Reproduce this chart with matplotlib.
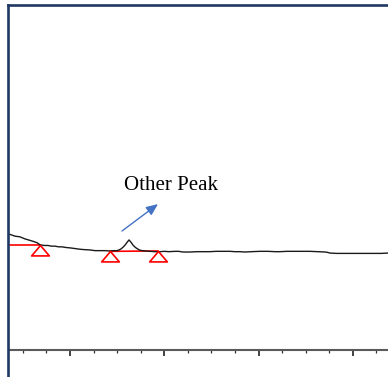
import matplotlib
matplotlib.use("Agg")
import matplotlib.pyplot as plt
from matplotlib.lines import Line2D
from matplotlib.path import Path
from matplotlib.ticker import MultipleLocator

# detector trace (time in min, signal in mAU)
time_min = [0.706, 0.833, 0.939, 1.045, 1.194, 1.300, 1.363, 1.450, 1.533, 1.600,
            1.682, 1.760, 1.830, 1.920, 2.000, 2.110, 2.212, 2.300, 2.424, 2.530,
            2.636, 2.740, 2.848, 2.930, 2.997, 3.040, 3.082, 3.125, 3.166, 3.210,
            3.251, 3.290, 3.336, 3.380, 3.421, 3.470, 3.527, 3.610, 3.697, 3.800,
            3.909, 4.000, 4.100, 4.227, 4.300, 4.400, 4.545, 4.700, 4.850, 4.969,
            5.100, 5.250, 5.393, 5.500, 5.600, 5.711, 5.850, 6.029, 6.200, 6.350,
            6.454, 6.600, 6.772, 6.900, 7.090, 7.250, 7.408, 7.460, 7.514, 7.650,
            7.832, 8.000, 8.150, 8.300, 8.468, 8.600, 8.744]
signal = [33.6, 33.0, 32.8, 32.2, 31.6, 31.1, 30.5, 30.3, 30.3, 30.1,
          30.1, 29.9, 29.9, 29.7, 29.6, 29.4, 29.2, 29.1, 29.0, 28.8,
          28.8, 28.8, 28.7, 28.8, 28.8, 29.0, 29.3, 29.8, 30.4, 31.2,
          31.9, 31.3, 30.4, 29.8, 29.4, 29.0, 28.8, 28.7, 28.6, 28.5,
          28.5, 28.6, 28.5, 28.6, 28.6, 28.4, 28.4, 28.5, 28.5, 28.5,
          28.6, 28.6, 28.6, 28.5, 28.5, 28.4, 28.5, 28.6, 28.6, 28.5,
          28.5, 28.6, 28.6, 28.6, 28.6, 28.5, 28.4, 28.3, 28.1, 28.0,
          28.0, 28.0, 28.0, 28.0, 28.0, 28.0, 28.1]

# integration baselines and their start/end events
baseline_1_t = [0.706, 1.363]
baseline_1_y = [30.4, 30.4]
baseline_2_t = [2.848, 3.866]
baseline_2_y = [28.6, 28.7]
event_t = [1.363, 2.848, 3.866]
event_y = [30.4, 28.6, 28.7]

label_text = "Other Peak"
label_xy = (3.145, 46.4)
arrow_tail = (3.103, 34.5)
arrow_head = (3.866, 42.3)

W, H = 388, 377
fig = plt.figure(figsize=(W / 100, H / 100), dpi=100)
ax = fig.add_axes([9 / W, 27 / H, (W - 9) / W, (350 - 5) / H])
ax.set_xlim(0.706, 8.744)
ax.set_ylim(0, 100)

ax.plot(time_min, signal, color="#1a1a1a", lw=1.0, zorder=3)
ax.plot(baseline_1_t, baseline_1_y, color="#ff0000", lw=1.2, zorder=2)
ax.plot(baseline_2_t, baseline_2_y, color="#ff0000", lw=1.2, zorder=2)

# open triangle with its apex on the event point
tri = Path([(0, 0), (-0.85, -1.0), (0.85, -1.0), (0, 0)],
           [Path.MOVETO, Path.LINETO, Path.LINETO, Path.CLOSEPOLY])
ax.plot(event_t, event_y, linestyle="none", marker=tri, markersize=15,
        markerfacecolor="white", markeredgecolor="#ff0000", markeredgewidth=1.2,
        zorder=4)

ax.text(label_xy[0], label_xy[1], label_text, family="Liberation Serif",
        fontsize=15, color="black", ha="left", va="baseline")
ax.annotate("", xy=arrow_head, xytext=arrow_tail,
            arrowprops=dict(arrowstyle="-|>,head_length=0.7,head_width=0.3",
                            color="#4472c4", lw=1.0, shrinkA=0, shrinkB=0))

for side in ("left", "right", "top"):
    ax.spines[side].set_visible(False)
ax.spines["bottom"].set_color("#5a5a5a")
ax.spines["bottom"].set_linewidth(1.5)
ax.xaxis.set_major_locator(MultipleLocator(2.0))
ax.xaxis.set_minor_locator(MultipleLocator(0.5))
ax.tick_params(axis="x", which="major", length=4.0, width=1.2, color="#222222",
               labelbottom=False)
ax.tick_params(axis="x", which="minor", length=2.0, width=0.9, color="#333333")
ax.set_yticks([])

# outer chart frame
frame = dict(color="#1f3864", lw=1.9, solid_capstyle="projecting")
fig.add_artist(Line2D([8 / W, 8 / W], [0, (H - 5) / H], **frame))
fig.add_artist(Line2D([8 / W, 1], [(H - 5) / H, (H - 5) / H], **frame))

fig.savefig("out.png", dpi=100)
